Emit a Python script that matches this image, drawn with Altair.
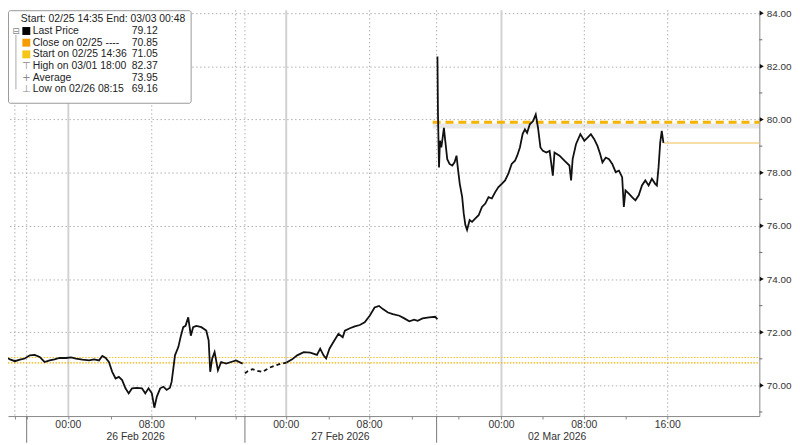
import altair as alt
import pandas as pd

# ---- price series (x = trading-time hours, 0 = 26 Feb 00:00 on the chart axis) ----
t1 = [-6.55, -6.08, -5.60, -5.13, -4.65, -4.18, -3.70, -3.23, -2.75, -2.28,
      -1.80, -1.33, -0.85, -0.22, 0.26, 0.73, 1.36, 1.99, 2.47, 2.94,
      3.26, 3.58, 3.89, 4.21, 4.53, 4.84, 5.16, 5.48, 5.79, 6.11,
      6.58, 7.06, 7.38, 7.69, 8.01, 8.25, 8.49, 8.81, 9.12, 9.43,
      9.75, 9.91, 10.07, 10.23, 10.55, 10.80, 11.02, 11.24, 11.50, 11.75,
      11.97, 12.28, 12.76, 13.23, 13.46, 13.61, 13.80, 14.03, 14.35, 14.66,
      15.13, 15.61, 16.08, 16.72]
p1 = [71.03, 71.07, 70.98, 70.91, 70.97, 71.01, 71.13, 71.15, 71.07, 70.88,
      70.94, 70.98, 71.03, 71.03, 71.05, 71.01, 70.97, 70.94, 70.98, 70.94,
      71.11, 71.03, 70.88, 70.51, 70.26, 70.32, 70.20, 69.89, 69.70, 69.89,
      69.91, 69.89, 69.70, 69.89, 69.70, 69.16, 69.58, 69.89, 69.95, 69.83,
      69.91, 70.14, 70.63, 71.13, 71.44, 71.87, 72.19, 72.24, 72.56, 71.87,
      72.19, 72.24, 72.19, 72.06, 71.69, 70.51, 71.01, 71.25, 70.57, 70.88,
      70.82, 70.88, 70.94, 70.82]

t2a = [16.94, 17.20, 17.67, 18.15, 18.62, 19.26, 19.73, 20.36, 20.93]
p2a = [70.45, 70.53, 70.61, 70.55, 70.51, 70.66, 70.73, 70.81, 70.86]

t2 = [20.93, 21.47, 21.95, 22.58, 23.21, 23.85, 24.16, 24.48, 24.73, 25.05,
      25.43, 25.91, 26.32, 26.53, 27.01, 27.48, 27.96, 28.43, 28.91, 29.38,
      29.80, 30.18, 30.66, 31.13, 31.76, 32.23, 32.71, 33.18, 33.51, 33.98,
      34.61, 35.18, 35.41]
p2 = [70.86, 70.98, 71.13, 71.25, 71.23, 71.15, 71.38, 71.13, 71.01, 71.38,
      71.63, 71.94, 71.81, 72.06, 72.15, 72.22, 72.27, 72.37, 72.62, 72.93,
      72.99, 72.87, 72.74, 72.68, 72.62, 72.52, 72.41, 72.47, 72.43, 72.52,
      72.56, 72.58, 72.49]

t3 = [35.41, 35.46, 35.56, 35.65, 35.78, 35.91, 36.03, 36.16, 36.35, 36.57,
      36.83, 37.05, 37.24, 37.36, 37.55, 37.78, 37.93, 38.09, 38.25, 38.50,
      38.73, 39.05, 39.36, 39.68, 40.00, 40.31, 40.63, 40.95, 41.26, 41.58,
      41.90, 42.21, 42.53, 42.85, 43.06, 43.32, 43.58, 43.80, 44.01, 44.27,
      44.58, 44.84, 45.06, 45.29, 45.53, 45.86, 46.17, 46.48, 46.64, 47.12,
      47.59, 48.07, 48.23, 48.38, 48.70, 49.12, 49.50, 49.81, 50.13, 50.45,
      50.76, 51.02, 51.24, 51.56, 51.87, 52.18, 52.51, 52.82, 53.13, 53.29,
      53.45, 53.77, 54.08, 54.40, 54.72, 55.03, 55.35, 55.67, 55.98, 56.30,
      56.46, 56.62, 56.78, 56.93, 57.09]
p3 = [82.37, 80.19, 78.20, 79.20, 78.95, 79.32, 79.69, 79.20, 78.51, 78.33,
      78.27, 78.39, 78.64, 78.20, 77.58, 77.09, 76.47, 76.03, 75.85, 76.22,
      76.15, 76.28, 76.40, 76.71, 76.84, 77.08, 77.03, 77.27, 77.46, 77.58,
      77.71, 77.96, 78.33, 78.45, 78.64, 78.95, 79.45, 79.63, 79.50, 79.82,
      79.94, 80.19, 79.69, 78.95, 78.82, 78.76, 78.82, 77.89, 78.76, 78.64,
      78.45, 78.27, 77.71, 78.51, 79.07, 79.45, 79.20, 79.32, 79.45, 79.26,
      79.01, 78.70, 78.39, 78.57, 78.51, 78.33, 78.02, 78.08, 77.83, 76.71,
      77.33, 77.21, 77.08, 76.96, 77.15, 77.52, 77.71, 77.52, 77.77, 77.58,
      77.52, 78.20, 79.13, 79.57, 79.12]

# ---- reference levels ----
start_level = 71.05
close_level = 70.85
last_price = 79.12
dash_level = 79.90
dash_from = 34.95
last_from = 57.09

# ---- legend text ----
legend_header = "Start: 02/25 14:35 End: 03/03 00:48"
legend_labels = ["Last Price", "Close on 02/25 ----", "Start on 02/25 14:36",
                 "High on 03/01 18:00", "Average", "Low on 02/26 08:15"]
legend_values = ["79.12", "70.85", "71.05", "82.37", "73.95", "69.16"]

# ---- axis ticks / labels ----
x_min, x_max = -5.79, 66.29
y_min, y_max = 68.846, 84.112
y_major = [70, 72, 74, 76, 78, 80, 82, 84]
y_minor = [69, 71, 73, 75, 77, 79, 81, 83]
x_ticks = [-5.13, -4.0, 0, 4.08, 8.0, 12.16, 16.05, 20.9, 24.98, 28.9, 32.95,
           37.42, 41.55, 45.49, 49.5, 53.47, 57.5]
time_pos = [0, 8.0, 20.9, 28.9, 41.55, 49.5, 57.5]
time_lab = ["00:00", "08:00", "00:00", "08:00", "00:00", "08:00", "16:00"]
date_pos = [6.46, 26.1, 46.9]
date_lab = ["26 Feb 2026", "27 Feb 2026", "02 Mar 2026"]
sep_pos = [-4.0, 16.94, 35.33]
grid_dotted = [-5.13, -4.0, 8.0, 16.05, 16.94, 28.9, 35.33, 49.5, 57.5]
grid_solid = [0, 20.9, 41.55]

W, H = 759, 410
FONT = "Liberation Sans"

xs = alt.Scale(domain=[x_min, x_max], nice=False, zero=False)
ys = alt.Scale(domain=[y_min, y_max], nice=False, zero=False)
xaxis = alt.Axis(values=x_ticks, labels=False, tickSize=3, tickColor="#888888",
                 domainColor="#888888", grid=False, title=None, orient="bottom")
yaxis = alt.Axis(values=y_major, format=".2f", orient="right", tickSize=0,
                 labelPadding=7, grid=True, gridDash=[1.5, 2.5], gridColor="#b0b0b0",
                 domainColor="#888888", title=None, labelFontSize=10,
                 labelColor="#333333", labelFont=FONT)


def X(f="t"):
    return alt.X(f"{f}:Q", scale=xs, axis=xaxis)


def Y(f="v"):
    return alt.Y(f"{f}:Q", scale=ys, axis=yaxis)


one = pd.DataFrame({"k": [0]})

price = pd.concat([
    pd.DataFrame({"t": t1, "v": p1, "seg": "a", "style": "solid"}),
    pd.DataFrame({"t": t2a, "v": p2a, "seg": "b0", "style": "dash"}),
    pd.DataFrame({"t": t2, "v": p2, "seg": "b", "style": "solid"}),
    pd.DataFrame({"t": t3, "v": p3, "seg": "c", "style": "solid"}),
])

layers = []

# vertical grid lines
layers.append(alt.Chart(pd.DataFrame({"t": grid_dotted})).mark_rule(
    color="#b0b0b0", strokeDash=[1.5, 2.5], strokeWidth=1).encode(x=X()))
layers.append(alt.Chart(pd.DataFrame({"t": grid_solid})).mark_rule(
    color="#d2d2d2", strokeWidth=2).encode(x=X()))

# start / close dotted levels
layers.append(alt.Chart(pd.DataFrame({"t": [x_min], "t2": [x_max], "v": [start_level]}))
              .mark_rule(color="#f2c12e", strokeDash=[1.5, 1.5], strokeWidth=1.2)
              .encode(x=X(), x2="t2:Q", y=Y()))
layers.append(alt.Chart(pd.DataFrame({"t": [x_min], "t2": [x_max], "v": [close_level]}))
              .mark_rule(color="#f0b000", strokeDash=[1.5, 1.5], strokeWidth=1.2)
              .encode(x=X(), x2="t2:Q", y=Y()))

# last price line
layers.append(alt.Chart(pd.DataFrame({"t": [last_from], "t2": [x_max], "v": [last_price]}))
              .mark_rule(color="#f3d58a", strokeWidth=1.5).encode(x=X(), x2="t2:Q", y=Y()))

# dashed level with soft shadow below
layers.append(alt.Chart(pd.DataFrame({"t": [dash_from], "t2": [x_max], "v": [dash_level - 0.14]}))
              .mark_rule(color="#9a9a9a", strokeWidth=5, opacity=0.22).encode(x=X(), x2="t2:Q", y=Y()))
layers.append(alt.Chart(pd.DataFrame({"t": [dash_from], "t2": [x_max], "v": [dash_level]}))
              .mark_rule(color="#f5b400", strokeWidth=3, strokeDash=[8, 5]).encode(x=X(), x2="t2:Q", y=Y()))

# price line
layers.append(alt.Chart(price[price["style"] == "solid"]).mark_line(
    color="#111111", strokeWidth=1.8, clip=True).encode(
    x=X(), y=Y(), detail="seg:N", order="t:Q"))
layers.append(alt.Chart(price[price["style"] == "dash"]).mark_line(
    color="#111111", strokeWidth=1.8, strokeDash=[4, 3], clip=True).encode(
    x=X(), y=Y(), order="t:Q"))

# right axis decorations
layers.append(alt.Chart(pd.DataFrame({"v": y_major})).mark_point(
    shape="triangle-right", size=22, filled=True, color="#111111", opacity=1).encode(
    x=alt.value(W + 2.5), y=Y()))
layers.append(alt.Chart(pd.DataFrame({"v": y_minor})).mark_rule(color="#666666").encode(
    x=alt.value(W), x2=alt.value(W + 3), y=Y()))

# x labels and session separators
layers.append(alt.Chart(pd.DataFrame({"t": time_pos, "lab": time_lab})).mark_text(
    fontSize=10.5, font=FONT, color="#333333", baseline="middle").encode(
    x=X(), y=alt.value(H + 9), text="lab:N"))
layers.append(alt.Chart(pd.DataFrame({"t": date_pos, "lab": date_lab})).mark_text(
    fontSize=10.5, font=FONT, color="#333333", baseline="middle").encode(
    x=X(), y=alt.value(H + 21), text="lab:N"))
layers.append(alt.Chart(pd.DataFrame({"t": sep_pos})).mark_rule(color="#777777").encode(
    x=X(), y=alt.value(H), y2=alt.value(H + 27)))

# legend box
layers.append(alt.Chart(one).mark_rect(fill="white", stroke="#999999", strokeWidth=1,
                                       cornerRadius=2).encode(
    x=alt.value(0.5), x2=alt.value(185), y=alt.value(0.5), y2=alt.value(94)))
layers.append(alt.Chart(one).mark_text(align="left", baseline="middle", fontSize=10.5,
                                       font=FONT, color="#222222").encode(
    x=alt.value(13), y=alt.value(9), text=alt.value(legend_header)))
layers.append(alt.Chart(one).mark_text(align="left", baseline="middle", fontSize=10.5,
                                       font=FONT, color="#222222", lineHeight=11.8).encode(
    x=alt.value(25), y=alt.value(21), text=alt.value(legend_labels)))
layers.append(alt.Chart(one).mark_text(align="left", baseline="middle", fontSize=10.5,
                                       font=FONT, color="#222222", lineHeight=11.8).encode(
    x=alt.value(125), y=alt.value(21), text=alt.value(legend_values)))
for yy, col in [(21, "#000000"), (32.8, "#f59c00"), (44.6, "#f5c518")]:
    layers.append(alt.Chart(one).mark_square(size=64, filled=True, color=col, opacity=1).encode(
        x=alt.value(18.5), y=alt.value(yy)))
layers.append(alt.Chart(one).mark_text(align="center", baseline="middle", fontSize=10,
                                       font="DejaVu Sans", color="#8a8a8a", lineHeight=11.8).encode(
    x=alt.value(18.5), y=alt.value(56.4), text=alt.value(["\u22a4", "+", "\u22a5"])))
layers.append(alt.Chart(one).mark_rule(color="#aaaaaa").encode(
    x=alt.value(8), y=alt.value(25), y2=alt.value(80)))
layers.append(alt.Chart(one).mark_text(align="center", baseline="middle", fontSize=9,
                                       font="DejaVu Sans", color="#888888").encode(
    x=alt.value(8), y=alt.value(21), text=alt.value("\u229f")))

chart = alt.layer(*layers).properties(
    width=W, height=H,
    padding={"left": 0, "top": 0, "right": 33, "bottom": 27},
    autosize=alt.AutoSizeParams(type="none"),
    background="white",
).configure_view(strokeWidth=0)

chart.save("out.html", embed_options={"renderer": "svg", "actions": False})
